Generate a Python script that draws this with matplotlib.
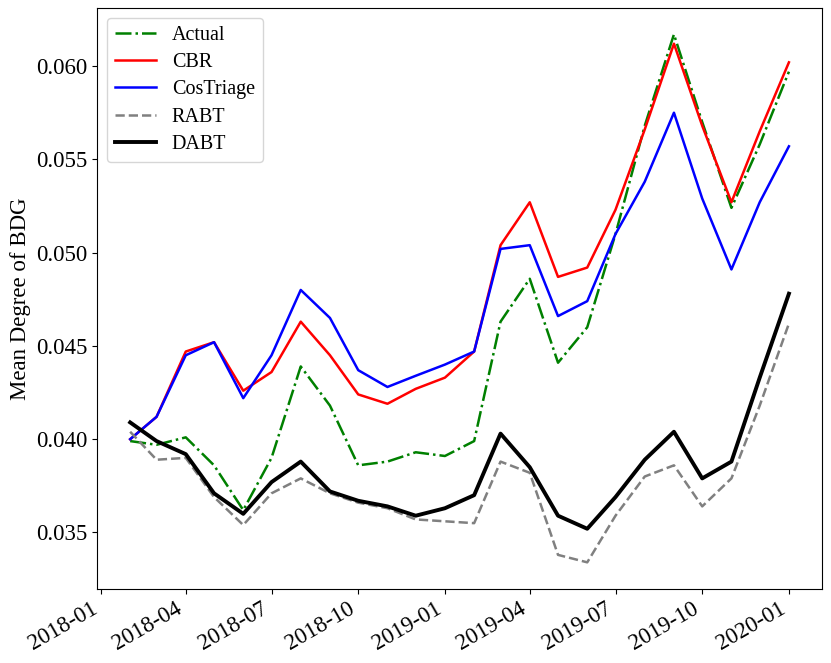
import numpy as np
import pandas as pd
import matplotlib
matplotlib.use('Agg')
import matplotlib.pyplot as plt
import matplotlib.dates as mdates

plt.rcParams['font.family'] = ['Liberation Serif', 'DejaVu Serif']

# monthly points, 2018-02 .. 2020-01
months = pd.date_range('2018-02-01', '2020-01-01', freq='MS')

actual = [0.0399, 0.0397, 0.0401, 0.0386, 0.0362, 0.0390, 0.0439, 0.0418,
          0.0386, 0.0388, 0.0393, 0.0391, 0.0399, 0.0463, 0.0486, 0.0441,
          0.0460, 0.0510, 0.0568, 0.0617, 0.0570, 0.0524, 0.0558, 0.0597]
cbr = [0.0400, 0.0412, 0.0447, 0.0452, 0.0426, 0.0436, 0.0463, 0.0445,
       0.0424, 0.0419, 0.0427, 0.0433, 0.0447, 0.0504, 0.0527, 0.0487,
       0.0492, 0.0523, 0.0566, 0.0612, 0.0568, 0.0527, 0.0565, 0.0602]
costriage = [0.0400, 0.0412, 0.0445, 0.0452, 0.0422, 0.0445, 0.0480, 0.0465,
             0.0437, 0.0428, 0.0434, 0.0440, 0.0447, 0.0502, 0.0504, 0.0466,
             0.0474, 0.0510, 0.0538, 0.0575, 0.0529, 0.0491, 0.0527, 0.0557]
rabt = [0.0404, 0.0389, 0.0390, 0.0369, 0.0354, 0.0371, 0.0379, 0.0371,
        0.0366, 0.0363, 0.0357, 0.0356, 0.0355, 0.0388, 0.0382, 0.0338,
        0.0334, 0.0359, 0.0380, 0.0386, 0.0364, 0.0379, 0.0418, 0.0462]
dabt = [0.0409, 0.0399, 0.0392, 0.0371, 0.0360, 0.0377, 0.0388, 0.0372,
        0.0367, 0.0364, 0.0359, 0.0363, 0.0370, 0.0403, 0.0385, 0.0359,
        0.0352, 0.0369, 0.0389, 0.0404, 0.0379, 0.0388, 0.0433, 0.0478]

fig, ax = plt.subplots(figsize=(8.31, 6.63), dpi=100)
fig.subplots_adjust(left=0.117, right=0.989, top=0.988, bottom=0.112)

ax.plot(months, actual, color='green', linestyle='-.', lw=1.8, label='Actual')
ax.plot(months, cbr, color='red', lw=1.8, label='CBR')
ax.plot(months, costriage, color='blue', lw=1.8, label='CosTriage')
ax.plot(months, rabt, color='grey', linestyle='--', lw=1.8, label='RABT')
ax.plot(months, dabt, color='black', lw=2.8, label='DABT')

ax.xaxis.set_major_locator(mdates.MonthLocator(bymonth=[1, 4, 7, 10]))
ax.xaxis.set_major_formatter(mdates.DateFormatter('%Y-%m'))
ax.tick_params(labelsize=16.5)
for lab in ax.get_xticklabels():
    lab.set_rotation(30)
    lab.set_ha('right')

ax.set_ylabel('Mean Degree of BDG', fontsize=16.5)
ax.legend(loc='upper left', fontsize=14.5, labelspacing=0.4)

fig.savefig('out.png', dpi=100)
